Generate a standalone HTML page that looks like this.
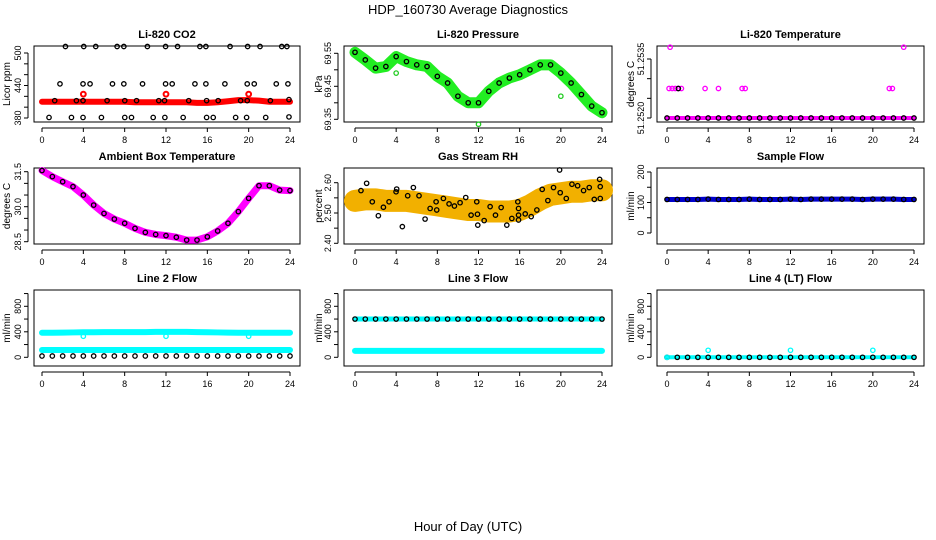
<!DOCTYPE html>
<html><head><meta charset="utf-8"><style>
body{margin:0;background:#fff}
svg{display:block;font-family:"Liberation Sans",sans-serif}
</style></head><body>
<svg id="c" width="936" height="540" viewBox="0 0 936 540" xmlns="http://www.w3.org/2000/svg">
<text x="468" y="14" text-anchor="middle" font-size="13">HDP_160730  Average Diagnostics</text>
<text x="468" y="531" text-anchor="middle" font-size="13">Hour of Day (UTC)</text>
</svg>
<script>
const xTicks=[0,4,8,12,16,20,24];
const hours=[0,1,2,3,4,5,6,7,8,9,10,11,12,13,14,15,16,17,18,19,20,21,22,23,24];
const co2Red=[410,410,410,410,410,410,410,410,410,409,409,409,409,409,409,408,408,409,411,413,413,412,410,410,410];
const co2TopH=[2.27,4.04,5.2,7.27,7.92,10.2,11.96,13.12,15.28,15.86,18.2,19.9,21.1,23.2,23.7];
const co2TopV=[512,512,512,512,512,512,512,512,512,512,512,512,512,512,512];
const co2HiH=[1.74,3.97,4.65,6.82,7.92,9.73,11.96,12.6,14.8,15.86,17.7,19.86,20.54,22.67,23.8];
const co2HiV=[443,443,443,443,443,443,443,443,443,443,443,443,443,443,443];
const co2MidH=[1.23,3.33,3.97,6.3,8.01,9.15,11.3,11.86,14.2,15.93,17.05,19.22,19.86,22.1,23.9];
const co2MidV=[412,412,412,412,412,412,412,412,412,412,412,412,412,412,414];
const co2LoH=[0.68,2.85,3.97,5.75,8.01,8.66,10.76,11.89,13.66,15.93,16.57,18.74,19.8,21.65,23.9];
const co2LoV=[381,381,381,381,381,381,381,381,381,381,381,381,381,381,382];
const presBand=[69.553,69.53,69.505,69.51,69.54,69.525,69.515,69.51,69.48,69.46,69.42,69.40,69.40,69.435,69.46,69.475,69.485,69.50,69.515,69.515,69.49,69.46,69.425,69.39,69.37];
const tempBaseV=[51.2520,51.2520,51.2520,51.2520,51.2520,51.2520,51.2520,51.2520,51.2520,51.2520,51.2520,51.2520,51.2520,51.2520,51.2520,51.2520,51.2520,51.2520,51.2520,51.2520,51.2520,51.2520,51.2520,51.2520,51.2520];
const tempMidH=[0.2,0.5,0.8,1.1,1.4,3.7,5.0,7.3,7.6,21.6,21.9];
const tempMidV=[51.25275,51.25275,51.25275,51.25275,51.25275,51.25275,51.25275,51.25275,51.25275,51.25275,51.25275];
const tempHiH=[0.3,23.0];
const tempHiV=[51.2538,51.2538];
const ambient=[31.55,31.29,31.07,30.86,30.5,30.07,29.71,29.47,29.29,29.07,28.9,28.81,28.76,28.69,28.57,28.57,28.71,28.96,29.29,29.79,30.36,30.9,30.9,30.71,30.69];
const rhBand=[2.54,2.545,2.545,2.54,2.54,2.54,2.535,2.53,2.525,2.52,2.515,2.51,2.51,2.505,2.505,2.505,2.51,2.525,2.545,2.56,2.565,2.57,2.57,2.575,2.575];
const rhH=[0.58,1.13,1.68,2.27,2.76,3.31,3.99,4.05,4.6,5.12,5.67,6.22,6.81,7.3,7.88,7.94,8.59,9.14,9.66,10.21,10.76,11.28,11.83,11.9,11.93,12.55,13.13,13.65,14.2,14.75,15.24,15.82,15.89,15.89,15.89,16.54,17.12,17.67,18.19,18.74,19.29,19.88,19.94,20.53,21.08,21.63,22.21,22.76,23.25,23.77,23.83,23.83];
const rhV=[2.574,2.598,2.537,2.491,2.519,2.537,2.570,2.579,2.455,2.557,2.584,2.557,2.480,2.515,2.537,2.510,2.548,2.530,2.523,2.534,2.551,2.493,2.537,2.496,2.460,2.475,2.521,2.493,2.518,2.460,2.482,2.537,2.515,2.493,2.477,2.497,2.488,2.510,2.578,2.541,2.584,2.642,2.567,2.548,2.595,2.590,2.574,2.584,2.545,2.611,2.587,2.548];
const sampleFlow=[110,110,110,110,111,110,110,110,111,110,110,110,111,110,111,111,111,111,111,110,111,111,111,110,110];
const l2Upper=[385,385,388,390,392,392,395,395,395,395,395,398,398,398,398,395,392,390,388,385,385,385,385,385,385];
const l2Lower=[115,115,115,115,115,115,115,115,115,115,115,115,115,115,115,115,115,115,115,115,115,115,115,115,115];
const l2Black=[20,20,20,20,20,20,20,20,20,20,20,20,20,20,20,20,20,20,20,20,20,20,20,20,20];
const l3Upper=[600,600,600,600,600,600,600,600,600,600,600,600,600,600,600,600,600,600,600,600,600,600,600,600,600];
const l3Lower=[100,100,100,100,100,100,100,100,100,100,100,100,100,100,100,100,100,100,100,100,100,100,100,100,100];
const l4Base=[0,0,0,0,0,0,0,0,0,0,0,0,0,0,0,0,0,0,0,0,0,0,0,0,0];
const l4OutH=[4,12,20];
const l4OutV=[110,110,110];

const NS="http://www.w3.org/2000/svg";
const svg=document.getElementById('c');
const cols=[{l:34,r:300,xa:42,xb:290,yl:10},{l:344,r:612,xa:355,xb:602,yl:322},{l:657,r:924,xa:667,xb:914,yl:634}];
const rows=[{t:46,b:122},{t:168,b:244},{t:290,b:366}];
function mk(tag,attrs,parent){const e=document.createElementNS(NS,tag);for(const k in attrs)e.setAttribute(k,attrs[k]);(parent||svg).appendChild(e);return e;}

function panel(ci,ri,title,ylab,v1,p1,v2,p2,yt,ylabels,name){
  const c=cols[ci],r=rows[ri];
  const g=mk('g',{});
  
  
  const xs=h=>c.xa+(c.xb-c.xa)*h/24;
  const ys=v=>p1+(v-v1)*(p2-p1)/(v2-v1);
  const fr=mk('rect',{x:c.l,y:r.t,width:c.r-c.l,height:r.b-r.t,fill:'none',stroke:'#000','stroke-width':1},g);
  
  
  const t=mk('text',{x:(c.l+c.r)/2,y:r.t-8,'text-anchor':'middle','font-size':11,'font-weight':'bold'},g);
  t.textContent=title;
  
  
  mk('line',{x1:xs(0),x2:xs(24),y1:r.b+6,y2:r.b+6,stroke:'#000'},g);
  xTicks.forEach(h=>{
    mk('line',{x1:xs(h),x2:xs(h),y1:r.b+6,y2:r.b+10,stroke:'#000'},g);
    const tl=mk('text',{x:xs(h),y:r.b+21,'text-anchor':'middle','font-size':9},g);
    tl.textContent=h;
    
    
  });
  mk('line',{x1:c.l-6,x2:c.l-6,y1:ys(yt[0]),y2:ys(yt[yt.length-1]),stroke:'#000'},g);
  yt.forEach(v=>mk('line',{x1:c.l-10,x2:c.l-6,y1:ys(v),y2:ys(v),stroke:'#000'},g));
  ylabels.forEach(v=>{
    const y=ys(parseFloat(v));
    const tl=mk('text',{x:c.l-13,y:y,'text-anchor':'middle','font-size':9,transform:`rotate(-90 ${c.l-13} ${y})`},g);
    tl.textContent=v;
    
    
  });
  const yl=mk('text',{x:c.yl,y:(r.t+r.b)/2,'text-anchor':'middle','font-size':10,transform:`rotate(-90 ${c.yl} ${(r.t+r.b)/2})`},g);
  yl.textContent=ylab;
  
  
  const clip=mk('g',{},g);
  return {g:clip,xs,ys};
}
function band(P,vals,color,w,name){
  const pts=vals.map((v,i)=>P.xs(hours[i])+','+P.ys(v)).join(' ');
  const pl=mk('polyline',{points:pts,fill:'none',stroke:color,'stroke-width':w,'stroke-linecap':'round','stroke-linejoin':'round'},P.g);
  
  
}
function pts(P,hs,vs,color,name,rad,sw){
  hs.forEach((h,i)=>{
    const e=mk('circle',{cx:P.xs(h),cy:P.ys(vs[i]),r:rad||2.2,fill:'none',stroke:color,'stroke-width':sw||1.3},P.g);
    
    
  });
}
function dense(P,vals,color,name){
  hours.forEach((h,i)=>{
    const e=mk('circle',{cx:P.xs(h),cy:P.ys(vals[i]),r:2.2,fill:'none',stroke:color,'stroke-width':1.3},P.g);
    
    
  });
}

let P=panel(0,0,'Li-820 CO2','Licor ppm',500,53,380,118,[380,400,420,440,460,480,500],['380','440','500'],'co2');
band(P,co2Red,'#ff0000',6,'co2-red-series');
pts(P,[4,12,20],[424,424,424],'#ff0000','co2-red-outlier',2.4,2);
pts(P,co2TopH,co2TopV,'#000','co2-point');
pts(P,co2HiH,co2HiV,'#000','co2-point');
pts(P,co2MidH,co2MidV,'#000','co2-point');
pts(P,co2LoH,co2LoV,'#000','co2-point');
P=panel(1,0,'Li-820 Pressure','kPa',69.55,53.3,69.35,119.3,[69.35,69.40,69.45,69.50,69.55],['69.35','69.45','69.55'],'pressure');
band(P,presBand,'#22ee22',11,'pressure-green-series');
pts(P,[4,12,20],[69.49,69.335,69.42],'#22cc22','pressure-outlier');
dense(P,presBand,'#000','pressure-point');
P=panel(2,0,'Li-820 Temperature','degrees C',51.2535,59,51.2520,118,[51.2520,51.2525,51.2530,51.2535],['51.2520','51.2535'],'li820-temp');
band(P,tempBaseV,'#ff00ff',4,'temp-magenta-series');
dense(P,tempBaseV,'#000','temp-point');
pts(P,tempMidH,tempMidV,'#ff00ff','temp-magenta-point');
pts(P,[1.1],[51.25275],'#000','temp-point');
pts(P,tempHiH,tempHiV,'#ff00ff','temp-magenta-point');
P=panel(0,1,'Ambient Box Temperature','degrees C',31.5,171.7,28.5,241.7,[28.5,29.0,29.5,30.0,30.5,31.0,31.5],['28.5','30.0','31.5'],'ambient');
band(P,ambient,'#ff00ff',7,'ambient-magenta-series');
dense(P,ambient,'#000','ambient-point');
P=panel(1,1,'Gas Stream RH','percent',2.60,182.7,2.40,243.3,[2.40,2.45,2.50,2.55,2.60],['2.40','2.50','2.60'],'rh');
band(P,rhBand,'#f2b000',22,'rh-orange-series');
pts(P,rhH,rhV,'#000','rh-point');
P=panel(2,1,'Sample Flow','ml/min',200,172,0,233,[0,50,100,150,200],['0','100','200'],'sample-flow');
band(P,sampleFlow,'#0000cc',5,'sample-flow-blue-series');
dense(P,sampleFlow,'#000','sample-flow-point');
const lt=[0,200,400,600,800,1000],ll=['0','400','800'];
P=panel(0,2,'Line 2 Flow','ml/min',800,306.3,0,357.3,lt,ll,'line2');
band(P,l2Upper,'#00ffff',6,'line2-upper-series');
band(P,l2Lower,'#00ffff',6,'line2-lower-series');
pts(P,[4,12,20],[330,330,330],'#00ffff','line2-outlier');
dense(P,l2Black,'#000','line2-point');
P=panel(1,2,'Line 3 Flow','ml/min',800,306.3,0,357.3,lt,ll,'line3');
band(P,l3Upper,'#00ffff',5,'line3-upper-series');
band(P,l3Lower,'#00ffff',6,'line3-lower-series');
dense(P,l3Upper,'#000','line3-point');
P=panel(2,2,'Line 4 (LT) Flow','ml/min',800,306.3,0,357.3,lt,ll,'line4');
band(P,l4Base,'#00ffff',4,'line4-series');
dense(P,l4Base,'#000','line4-point');
pts(P,l4OutH,l4OutV,'#00ffff','line4-outlier');
pts(P,[0],[0],'#00ffff','line4-outlier');
</script>
</body></html>
